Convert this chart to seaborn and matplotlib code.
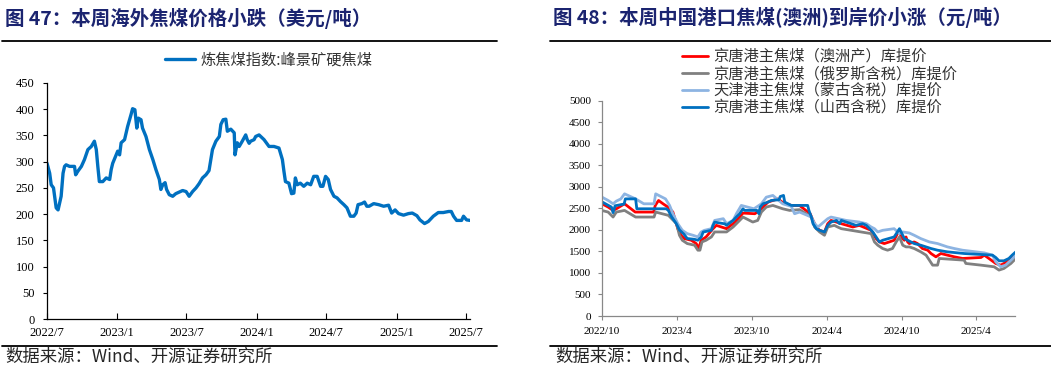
import matplotlib
matplotlib.use('Agg')
import matplotlib.pyplot as plt
from matplotlib.lines import Line2D
import pandas as pd
import seaborn as sns

# ---- left chart: coking coal index (USD/t) ----
left_dates = [
    '2022-07-01', '2022-07-08', '2022-07-12', '2022-07-18', '2022-07-21', '2022-07-25',
    '2022-07-30', '2022-08-03', '2022-08-07', '2022-08-12', '2022-08-16', '2022-08-20',
    '2022-08-29', '2022-09-11', '2022-09-14', '2022-09-20', '2022-09-29', '2022-10-07',
    '2022-10-16', '2022-10-25', '2022-11-02', '2022-11-07', '2022-11-11', '2022-11-15',
    '2022-11-24', '2022-12-03', '2022-12-12', '2022-12-16', '2022-12-20', '2022-12-29',
    '2023-01-02', '2023-01-07', '2023-01-11', '2023-01-20', '2023-01-28', '2023-02-06',
    '2023-02-10', '2023-02-16', '2023-02-21', '2023-02-25', '2023-03-04', '2023-03-08',
    '2023-03-17', '2023-03-26', '2023-04-04', '2023-04-12', '2023-04-21', '2023-04-25',
    '2023-04-30', '2023-05-06', '2023-05-10', '2023-05-17', '2023-05-26', '2023-06-03',
    '2023-06-12', '2023-06-21', '2023-06-30', '2023-07-08', '2023-07-17', '2023-07-26',
    '2023-08-03', '2023-08-12', '2023-08-21', '2023-08-29', '2023-09-07', '2023-09-16',
    '2023-09-25', '2023-09-29', '2023-10-05', '2023-10-12', '2023-10-16', '2023-10-25',
    '2023-11-03', '2023-11-05', '2023-11-11', '2023-11-16', '2023-11-24', '2023-12-03',
    '2023-12-07', '2023-12-12', '2023-12-16', '2023-12-25', '2023-12-29', '2024-01-07',
    '2024-01-20', '2024-02-02', '2024-02-15', '2024-02-28', '2024-03-08', '2024-03-12',
    '2024-03-16', '2024-03-25', '2024-04-01', '2024-04-07', '2024-04-11', '2024-04-16',
    '2024-04-24', '2024-05-03', '2024-05-12', '2024-05-21', '2024-05-29', '2024-06-07',
    '2024-06-16', '2024-06-22', '2024-06-29', '2024-07-06', '2024-07-12', '2024-07-21',
    '2024-07-29', '2024-08-07', '2024-08-16', '2024-08-24', '2024-09-02', '2024-09-11',
    '2024-09-17', '2024-09-22', '2024-10-02', '2024-10-09', '2024-10-15', '2024-10-21',
    '2024-11-02', '2024-11-15', '2024-11-28', '2024-12-11', '2024-12-19', '2024-12-28',
    '2025-01-06', '2025-01-19', '2025-02-01', '2025-02-11', '2025-02-23', '2025-03-03',
    '2025-03-15', '2025-03-25', '2025-04-07', '2025-04-20', '2025-05-03', '2025-05-17',
    '2025-05-24', '2025-05-30', '2025-06-07', '2025-06-20', '2025-06-25', '2025-07-03',
    '2025-07-12',
]
left_values = [
    297, 278, 256, 250, 234, 212,
    208, 221, 234, 278, 291, 294,
    291, 291, 275, 282, 291, 304,
    323, 329, 339, 323, 291, 262,
    262, 269, 266, 285, 297, 313,
    320, 313, 336, 342, 367, 390,
    401, 399, 364, 383, 380, 364,
    348, 323, 304, 285, 266, 247,
    256, 260, 247, 237, 234, 239,
    242, 245, 243, 234, 243, 250,
    258, 269, 275, 283, 323, 339,
    348, 371, 380, 381, 358, 362,
    355, 313, 336, 329, 339, 351,
    342, 335, 339, 342, 348, 351,
    342, 329, 329, 326, 304, 282,
    262, 259, 239, 240, 269, 256,
    259, 253, 259, 256, 272, 272,
    253, 253, 272, 266, 247, 234,
    231, 224, 218, 212, 196, 196,
    202, 218, 220, 223, 215, 215,
    220, 218, 215, 217, 202, 208,
    201, 198, 201, 202, 197, 189,
    182, 186, 196, 203, 203, 205,
    205, 196, 188, 188, 196, 189,
    188,
]
left_label = '炼焦煤指数:峰景矿硬焦煤'
left_ticks = ['2022-07-01', '2023-01-01', '2023-07-01', '2024-01-01',
              '2024-07-01', '2025-01-01', '2025-07-01']
left_ticklabels = ['2022/7', '2023/1', '2023/7', '2024/1', '2024/7', '2025/1', '2025/7']

# ---- right chart: port coking coal prices (CNY/t) ----
au_dates = [
    '2022-10-01', '2022-10-16', '2022-10-28', '2022-11-05', '2022-11-25', '2022-12-21',
    '2023-02-04', '2023-02-08', '2023-02-16', '2023-02-27', '2023-03-11', '2023-03-23',
    '2023-04-04', '2023-04-12', '2023-04-20', '2023-05-07', '2023-05-19', '2023-05-25',
    '2023-05-31', '2023-06-12', '2023-06-29', '2023-07-07', '2023-08-01', '2023-08-17',
    '2023-09-02', '2023-09-10', '2023-10-09', '2023-10-21', '2023-11-02', '2023-11-10',
    '2023-11-22', '2023-12-04', '2023-12-15', '2023-12-25', '2024-01-06', '2024-01-26',
    '2024-02-21', '2024-02-28', '2024-03-07', '2024-03-15', '2024-03-27', '2024-04-04',
    '2024-04-12', '2024-04-25', '2024-05-07', '2024-06-04', '2024-06-20', '2024-07-19',
    '2024-07-31', '2024-08-08', '2024-08-20', '2024-09-01', '2024-09-13', '2024-09-21',
    '2024-09-26', '2024-09-30', '2024-10-08', '2024-10-12', '2024-10-16', '2024-10-20',
    '2024-11-01', '2024-11-09', '2024-11-21', '2024-12-04', '2024-12-12', '2024-12-24',
    '2025-01-05', '2025-01-21', '2025-02-07', '2025-02-27', '2025-04-13', '2025-04-21',
    '2025-04-29', '2025-05-19', '2025-05-31', '2025-06-08', '2025-06-20', '2025-07-03',
]
au_values = [
    2606, 2530, 2452, 2490, 2606, 2414,
    2414, 2568, 2683, 2606, 2530, 2414,
    2028, 1875, 1798, 1759, 1682, 1567,
    1759, 1836, 2028, 2105, 2028, 2144,
    2298, 2390, 2375, 2452, 2568, 2645,
    2683, 2720, 2645, 2606, 2568, 2568,
    2375, 2220, 2067, 1990, 1952, 2144,
    2220, 2182, 2144, 2067, 2105, 1990,
    1798, 1720, 1682, 1720, 1759, 1913,
    1990, 1836, 1759, 1836, 1720, 1682,
    1720, 1682, 1567, 1528, 1451, 1374,
    1451, 1413, 1374, 1336, 1359, 1413,
    1359, 1220, 1181, 1220, 1297, 1374,
]

ru_dates = [
    '2022-10-01', '2022-10-16', '2022-10-28', '2022-11-05', '2022-11-25', '2022-12-22',
    '2023-02-05', '2023-02-09', '2023-03-12', '2023-04-01', '2023-04-08', '2023-04-15',
    '2023-04-27', '2023-05-15', '2023-05-23', '2023-05-28', '2023-06-02', '2023-06-12',
    '2023-06-25', '2023-07-03', '2023-08-01', '2023-08-17', '2023-09-02', '2023-09-10',
    '2023-10-04', '2023-10-16', '2023-10-25', '2023-11-06', '2023-11-22', '2023-12-16',
    '2024-01-02', '2024-01-26', '2024-02-24', '2024-03-03', '2024-03-15', '2024-03-27',
    '2024-04-04', '2024-04-20', '2024-04-28', '2024-05-07', '2024-05-31', '2024-07-19',
    '2024-07-27', '2024-08-04', '2024-08-16', '2024-08-28', '2024-09-09', '2024-09-18',
    '2024-09-26', '2024-10-04', '2024-10-12', '2024-10-20', '2024-11-01', '2024-11-17',
    '2024-11-30', '2024-12-08', '2024-12-16', '2024-12-28', '2025-01-01', '2025-03-03',
    '2025-03-07', '2025-04-13', '2025-05-15', '2025-05-27', '2025-06-08', '2025-06-25',
    '2025-07-07',
]
ru_values = [
    2450, 2414, 2298, 2414, 2452, 2298,
    2298, 2414, 2337, 2144, 1875, 1759,
    1682, 1644, 1528, 1528, 1720, 1759,
    1836, 1952, 1952, 2067, 2220, 2298,
    2182, 2220, 2414, 2530, 2568, 2490,
    2452, 2470, 2298, 2067, 1952, 1875,
    2067, 2105, 2067, 2028, 1990, 1913,
    1720, 1644, 1567, 1528, 1567, 1720,
    1836, 1644, 1605, 1605, 1567, 1490,
    1413, 1297, 1181, 1181, 1336, 1297,
    1220, 1181, 1143, 1066, 1104, 1220,
    1336,
]

mn_dates = [
    '2022-10-01', '2022-10-16', '2022-10-28', '2022-11-05', '2022-11-16', '2022-11-25',
    '2022-12-22', '2023-01-11', '2023-02-05', '2023-02-09', '2023-03-05', '2023-03-15',
    '2023-03-23', '2023-04-04', '2023-04-15', '2023-04-27', '2023-05-11', '2023-05-23',
    '2023-05-31', '2023-06-08', '2023-06-25', '2023-07-03', '2023-07-24', '2023-08-01',
    '2023-08-17', '2023-08-25', '2023-09-06', '2023-10-07', '2023-10-25', '2023-11-06',
    '2023-11-22', '2023-12-16', '2024-01-06', '2024-01-14', '2024-01-26', '2024-02-24',
    '2024-03-03', '2024-03-11', '2024-04-04', '2024-04-12', '2024-05-19', '2024-06-20',
    '2024-07-07', '2024-07-19', '2024-07-27', '2024-08-04', '2024-08-16', '2024-09-13',
    '2024-09-26', '2024-10-04', '2024-10-20', '2024-11-01', '2024-11-17', '2024-12-08',
    '2024-12-28', '2025-01-21', '2025-02-07', '2025-02-27', '2025-04-21', '2025-05-11',
    '2025-05-19', '2025-05-31', '2025-06-12', '2025-06-25', '2025-07-07',
]
mn_values = [
    2760, 2683, 2606, 2668, 2720, 2837,
    2720, 2606, 2606, 2837, 2720, 2568,
    2375, 2144, 1990, 1913, 1875, 1836,
    1952, 1990, 2028, 2220, 2260, 2144,
    2220, 2375, 2568, 2490, 2606, 2760,
    2800, 2606, 2545, 2375, 2414, 2298,
    2144, 2067, 2260, 2298, 2220, 2182,
    2144, 2067, 2028, 1952, 1990, 2028,
    1913, 1952, 1928, 1875, 1798, 1720,
    1682, 1605, 1567, 1528, 1466, 1413,
    1259, 1143, 1181, 1297, 1413,
]

sx_dates = [
    '2022-10-01', '2022-10-24', '2022-10-28', '2022-11-02', '2022-11-24', '2022-11-27',
    '2022-12-22', '2022-12-25', '2023-03-07', '2023-03-12', '2023-03-20', '2023-03-31',
    '2023-04-08', '2023-04-19', '2023-04-27', '2023-05-15', '2023-05-23', '2023-05-31',
    '2023-06-05', '2023-06-25', '2023-06-29', '2023-07-03', '2023-07-28', '2023-08-01',
    '2023-08-17', '2023-08-25', '2023-09-02', '2023-09-10', '2023-09-14', '2023-10-14',
    '2023-10-19', '2023-10-22', '2023-10-29', '2023-11-10', '2023-11-18', '2023-12-07',
    '2023-12-10', '2023-12-18', '2023-12-21', '2023-12-29', '2024-01-06', '2024-02-15',
    '2024-02-18', '2024-02-24', '2024-02-28', '2024-03-07', '2024-03-15', '2024-03-27',
    '2024-04-04', '2024-04-12', '2024-04-25', '2024-05-03', '2024-05-07', '2024-05-19',
    '2024-05-31', '2024-06-12', '2024-06-28', '2024-07-07', '2024-07-15', '2024-07-23',
    '2024-07-31', '2024-08-08', '2024-08-16', '2024-09-13', '2024-09-21', '2024-09-26',
    '2024-10-02', '2024-10-08', '2024-10-16', '2024-10-24', '2024-11-01', '2024-11-17',
    '2024-12-12', '2024-12-28', '2025-01-21', '2025-03-03', '2025-05-11', '2025-05-19',
    '2025-05-27', '2025-06-08', '2025-06-20', '2025-06-28', '2025-07-07',
]
sx_values = [
    2650, 2530, 2400, 2560, 2600, 2720,
    2720, 2490, 2490, 2450, 2300, 2150,
    2000, 1900, 1800, 1780, 1760, 1830,
    1950, 1990, 2105, 2180, 2140, 2105,
    2220, 2300, 2375, 2490, 2452, 2452,
    2375, 2530, 2606, 2645, 2683, 2700,
    2775, 2800, 2645, 2606, 2568, 2568,
    2452, 2298, 2144, 2028, 1990, 1952,
    2105, 2182, 2220, 2144, 2220, 2182,
    2144, 2105, 2144, 2105, 2028, 1952,
    1836, 1720, 1759, 1836, 1952, 2028,
    1913, 1798, 1759, 1720, 1682, 1644,
    1567, 1528, 1490, 1451, 1413, 1359,
    1282, 1282, 1336, 1413, 1490,
]
right_labels = ['京唐港主焦煤（澳洲产）库提价', '京唐港主焦煤（俄罗斯含税）库提价',
                '天津港主焦煤（蒙古含税）库提价', '京唐港主焦煤（山西含税）库提价']
right_colors = ['#FF0000', '#808080', '#8DB4E2', '#0070C0']
right_ticks = ['2022-10-01', '2023-04-01', '2023-10-01', '2024-04-01',
               '2024-10-01', '2025-04-01']
right_ticklabels = ['2022/10', '2023/4', '2023/10', '2024/4', '2024/10', '2025/4']

title_left = '图 47：本周海外焦煤价格小跌（美元/吨）'
title_right = '图 48：本周中国港口焦煤(澳洲)到岸价小涨（元/吨）'
source_text = '数据来源：Wind、开源证券研究所'

W, H = 1051, 374
CJK = ['Noto Sans CJK SC', 'DejaVu Sans']
SERIF = 'Liberation Serif'
TITLE_COLOR = '#1B2470'


def fx(px):
    return px / W


def fy(py):
    return 1 - py / H


def main():
    sns.set_style('white')
    plt.rcParams['font.family'] = CJK

    fig = plt.figure(figsize=(W / 100, H / 100), dpi=100)

    # titles, rules and source notes
    fig.text(fx(5), fy(18), title_left, fontsize=14, fontweight='bold',
             color=TITLE_COLOR, va='center', ha='left')
    fig.text(fx(553), fy(18), title_right, fontsize=14, fontweight='bold',
             color=TITLE_COLOR, va='center', ha='left')
    for x0, x1 in [(2, 497), (550, 1051)]:
        fig.add_artist(Line2D([fx(x0), fx(x1)], [fy(41), fy(41)],
                              transform=fig.transFigure, color='black', lw=1.3))
        fig.add_artist(Line2D([fx(x0), fx(x1)], [fy(346), fy(346)],
                              transform=fig.transFigure, color='black', lw=1.3))
    fig.text(fx(5), fy(357), source_text, fontsize=12.5, va='center', ha='left')
    fig.text(fx(555), fy(357), source_text, fontsize=12.5, va='center', ha='left')

    # ---- left chart ----
    ax1 = fig.add_axes([fx(47), fy(319), fx(470) - fx(47), fy(83) - fy(319)])
    sns.lineplot(x=pd.to_datetime(left_dates), y=left_values, ax=ax1,
                 color='#0070C0', lw=2.4, label=left_label)
    ax1.set_ylim(0, 450)
    ax1.set_yticks(range(0, 451, 50))
    ax1.set_xlim(pd.Timestamp('2022-07-01'), pd.Timestamp('2025-07-12'))
    ax1.set_xticks(pd.to_datetime(left_ticks))
    ax1.set_xticklabels(left_ticklabels)
    for side in ['top', 'right']:
        ax1.spines[side].set_visible(False)
    for side in ['left', 'bottom']:
        ax1.spines[side].set_color('black')
        ax1.spines[side].set_linewidth(0.9)
    ax1.tick_params(axis='y', direction='out', length=3, width=0.8, pad=6,
                    left=True, labelsize=9, colors='black')
    ax1.tick_params(axis='x', direction='in', length=4, width=0.8, pad=6,
                    bottom=True, labelsize=9, colors='black')
    for lab in ax1.get_xticklabels() + ax1.get_yticklabels():
        lab.set_fontfamily(SERIF)
    ax1.set_xlabel('')
    ax1.set_ylabel('')
    ax1.legend(loc='center left', bbox_to_anchor=(fx(165), fy(60)),
               bbox_transform=fig.transFigure, frameon=False, fontsize=11,
               borderpad=0, borderaxespad=0, handlelength=1.95,
               handletextpad=0.35, labelcolor='#333333')

    # ---- right chart ----
    ax2 = fig.add_axes([fx(602), fy(316), fx(1015) - fx(602), fy(100.7) - fy(316)])
    series = [(au_dates, au_values), (ru_dates, ru_values),
              (mn_dates, mn_values), (sx_dates, sx_values)]
    for (d, v), lab, col in zip(series, right_labels, right_colors):
        sns.lineplot(x=pd.to_datetime(d), y=v, ax=ax2, color=col, lw=2.0, label=lab)
    ax2.set_ylim(0, 5000)
    ax2.set_yticks(range(0, 5001, 500))
    ax2.set_xlim(pd.Timestamp('2022-10-01'), pd.Timestamp('2025-07-05'))
    ax2.set_xticks(pd.to_datetime(right_ticks))
    ax2.set_xticklabels(right_ticklabels)
    for side in ['top', 'right']:
        ax2.spines[side].set_visible(False)
    for side in ['left', 'bottom']:
        ax2.spines[side].set_color('#888888')
        ax2.spines[side].set_linewidth(0.9)
    ax2.tick_params(axis='both', direction='out', length=3, width=0.8, pad=5,
                    left=True, bottom=True, labelsize=8, color='#888888',
                    labelcolor='black')
    for lab in ax2.get_xticklabels() + ax2.get_yticklabels():
        lab.set_fontfamily(SERIF)
    ax2.set_xlabel('')
    ax2.set_ylabel('')
    ax2.legend(loc='upper left', bbox_to_anchor=(fx(682), fy(48)),
               bbox_transform=fig.transFigure, frameon=False, fontsize=11,
               borderpad=0, borderaxespad=0, handlelength=1.7,
               handletextpad=0.33, labelspacing=0.0, labelcolor='#333333')

    fig.savefig('out.png', dpi=100)
    plt.close(fig)


if __name__ == '__main__':
    main()
